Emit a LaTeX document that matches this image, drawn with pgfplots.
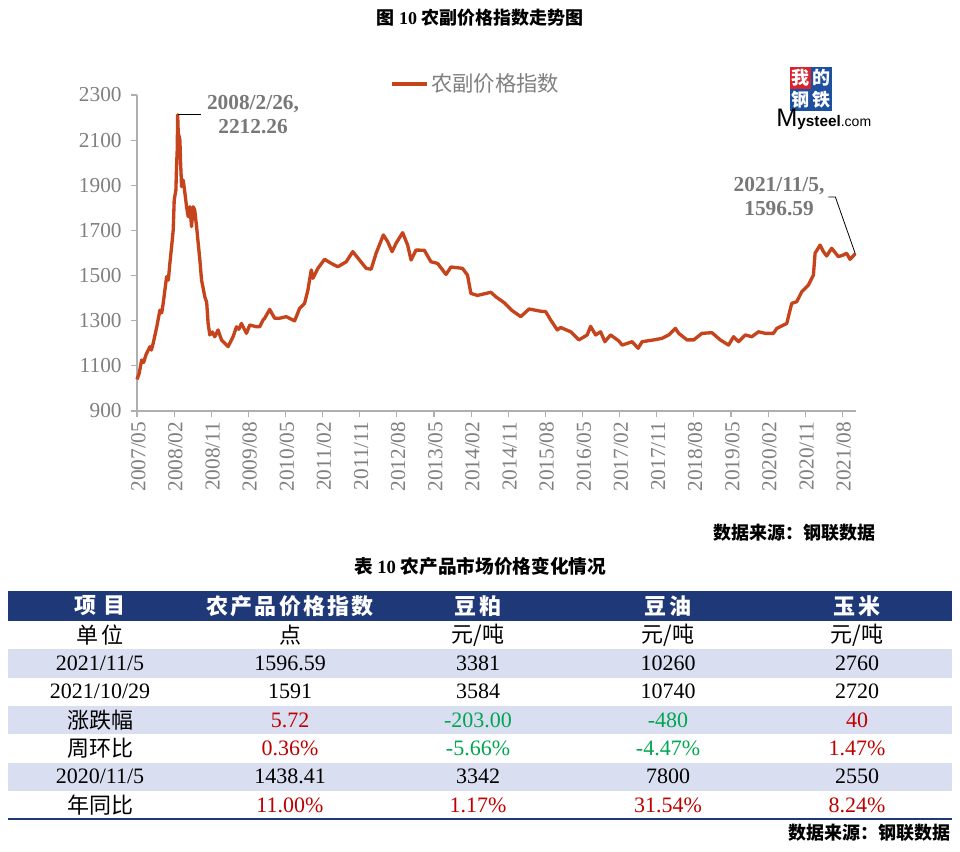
\documentclass[border=0pt]{standalone}
\usepackage{pgfplots}
\pgfplotsset{compat=1.18}
\usepackage{fontspec}
\setmainfont{Liberation Serif}
\setsansfont{Liberation Sans}
\newfontfamily\cjk{Noto Sans CJK SC}
\definecolor{lineC}{RGB}{197,68,28}
\definecolor{axgray}{RGB}{175,175,175}
\definecolor{txtgray}{RGB}{128,128,128}
\definecolor{annogray}{RGB}{120,120,120}
\definecolor{hdrblue}{RGB}{31,56,120}
\definecolor{rowshade}{RGB}{217,222,240}
\definecolor{tred}{RGB}{192,0,0}
\definecolor{tgreen}{RGB}{0,166,80}
\definecolor{logored}{RGB}{215,35,45}
\definecolor{logoblue}{RGB}{30,80,160}
\newcommand\tf{\fontsize{16.5}{18}\selectfont}
\newcommand\tcj{\cjk\fontsize{16.5}{18}\selectfont}
\begin{document}
\begin{tikzpicture}[x=0.75pt,y=0.75pt]
\path[use as bounding box, fill=white] (0,0) rectangle (960,851);
\begin{axis}[
  at={(102.75pt,330pt)}, anchor=south west,
  scale only axis, width=539.25pt, height=237pt,
  xmin=0, xmax=174.3, ymin=900, ymax=2300,
  ytick={900,1100,...,2300},
  xtick={0,9,...,171},
  xticklabels={2007/05,2008/02,2008/11,2009/08,2010/05,2011/02,2011/11,2012/08,2013/05,2014/02,2014/11,2015/08,2016/05,2017/02,2017/11,2018/08,2019/05,2020/02,2020/11,2021/08},
  /pgf/number format/assume math mode=true,
  /pgf/number format/1000 sep={},
  axis x line*=bottom, axis y line*=left,
  axis line style={axgray, line width=0.9pt},
  tick style={axgray, line width=0.9pt},
  tick align=outside, major tick length=4.5pt,
  tick label style={font=\fontsize{16}{16}\selectfont, text=txtgray},
  y tick label style={xshift=-3.5pt},
  x tick label style={rotate=90, anchor=east, yshift=-1pt},
  clip=false,
  legend style={at={(0.352,1.035)}, anchor=west, draw=none, fill=none,
    font=\cjk\fontsize{16}{16}\selectfont, text=txtgray, inner sep=0pt},
  legend image code/.code={\draw[lineC, line width=2.6pt] (0pt,0pt) -- (26pt,0pt);},
]
\addplot[lineC, line width=2.5pt, line join=round] coordinates {
(0,1040) (0.5,1065) (1.14,1126) (1.6,1115) (2.2,1150) (3.14,1185) (3.5,1170) (3.94,1201) (4.76,1270) (5.56,1347) (6.0,1335) (6.36,1378) (7.18,1495) (7.6,1480) (7.98,1556) (8.39,1628) (8.78,1702) (9.02,1835) (9.43,1879) (9.6,1990) (9.75,2056) (9.86,2212.26) (10.0,2130) (10.16,2120) (10.4,2100) (10.57,1999) (10.81,1894) (11.2,1923) (11.61,1866) (12.02,1805) (12.41,1761) (12.82,1805) (13.23,1717) (13.62,1805) (14.0,1790) (14.44,1717) (15.24,1569) (15.65,1480) (16.44,1406) (16.9,1380) (17.24,1288) (17.65,1237) (18.3,1250) (18.86,1229) (19.66,1259) (20.48,1215) (21.28,1200) (22.08,1185) (23.29,1229) (24.11,1273) (24.7,1262) (25.32,1288) (26.53,1244) (27.33,1281) (28.95,1273) (29.75,1273) (30.54,1303) (30.96,1311) (32.16,1350) (33.37,1311) (34.58,1311) (36.2,1318) (38.21,1299) (39.42,1355) (40.63,1377) (41.43,1436) (42.25,1525) (42.64,1488) (43.85,1532) (45.47,1572) (47.09,1554) (48.68,1539) (50.71,1561) (52.31,1606) (53.93,1569) (55.55,1532) (56.76,1528) (57.97,1599) (59.73,1680) (60.77,1650) (61.84,1606) (62.8,1643) (64.4,1690) (65.61,1635) (66.43,1569) (67.64,1613) (69.65,1612) (71.27,1561) (72.87,1554) (74.9,1505) (76.1,1538) (78.91,1532) (80.12,1502) (80.94,1421) (82.54,1412) (85.78,1426) (86.99,1406) (89,1380) (91,1344) (93.04,1318) (95.04,1352) (97.87,1342) (99.08,1340) (100.29,1303) (101.89,1259) (102.71,1270) (105.13,1251) (107.13,1215) (109.14,1237) (109.96,1275) (111.17,1237) (112.38,1251) (113.42,1207) (114.8,1237) (116.81,1210) (117.61,1192) (120.03,1207) (121.48,1178) (122.45,1207) (125.27,1215) (127.28,1222) (128.9,1237) (130.52,1266) (131.32,1244) (133.33,1215) (134.95,1215) (136.95,1244) (139.37,1247) (141.4,1215) (143.41,1192) (144.62,1229) (145.83,1207) (147.45,1237) (149.04,1229) (150.66,1251) (152.29,1244) (154.29,1244) (155.09,1266) (157.51,1288) (158.72,1377) (159.93,1384) (161.14,1428) (162.76,1458) (163.97,1502) (164.38,1599) (165.59,1635) (166.39,1606) (167.19,1587) (168.4,1621) (170.02,1584) (171.23,1591) (172.02,1599) (172.84,1572) (174.13,1596.59)
};
\addlegendentry{农副价格指数}
\draw[black, line width=0.6pt] (axis cs:9.86,2212.26) -- (axis cs:15.6,2212.26);
\draw[black, line width=0.6pt] (axis cs:167.6,1848) -- (axis cs:169.3,1848) -- (axis cs:174.13,1596.59);
\end{axis}
% annotations
\node[align=center, text=annogray, font=\bfseries\fontsize{16}{18}\selectfont] at (253,736) {2008/2/26,\\2212.26};
\node[align=center, text=annogray, font=\bfseries\fontsize{16}{18}\selectfont] at (779,654) {2021/11/5,\\1596.59};
% title
\node[font=\bfseries\fontsize{13.5}{14}\selectfont] at (480,833) {{\cjk 图} 10 {\cjk 农副价格指数走势图}};
% logo
\fill[logored] (790,762) rectangle (811,784);
\fill[logoblue] (811,762) rectangle (832,784);
\fill[logoblue] (790,740) rectangle (811,762);
\fill[logoblue] (811,740) rectangle (832,762);
\node[text=white, font=\cjk\bfseries\fontsize{13.5}{14}\selectfont] at (800.5,773) {我};
\node[text=white, font=\cjk\bfseries\fontsize{13.5}{14}\selectfont] at (821.5,773) {的};
\node[text=white, font=\cjk\bfseries\fontsize{13.5}{14}\selectfont] at (800.5,751) {钢};
\node[text=white, font=\cjk\bfseries\fontsize{13.5}{14}\selectfont] at (821.5,751) {铁};
\node[anchor=base west, inner sep=0pt, font=\sffamily] at (776,724) {{\fontsize{19}{19}\selectfont M}{\bfseries\fontsize{11.5}{12}\selectfont ysteel}{\fontsize{10.5}{11}\selectfont .com}};
% source 1
\node[anchor=east, inner sep=0pt, font=\cjk\bfseries\fontsize{13.5}{14}\selectfont] at (876,318) {数据来源：钢联数据};
% table title
\node[font=\bfseries\fontsize{14}{15}\selectfont] at (480,285) {{\cjk 表} 10 {\cjk 农产品市场价格变化情况}};
% table
\fill[hdrblue] (8,230) rectangle (952,260);
\fill[rowshade] (8,173.4) rectangle (952,201.7);
\fill[rowshade] (8,116.8) rectangle (952,145.1);
\fill[rowshade] (8,60.2) rectangle (952,88.5);
\draw[hdrblue, line width=1.6pt] (8,31.9) -- (952,31.9);
\begin{scope}[every node/.style={text=white, font=\cjk\bfseries\fontsize{16.5}{18}\selectfont}]
\node at (100,245) {项\hspace{0.3em}目};
\node at (290,245) {农\hspace{0.1em}产\hspace{0.1em}品\hspace{0.1em}价\hspace{0.1em}格\hspace{0.1em}指\hspace{0.1em}数};
\node at (478,245) {豆\hspace{0.1em}粕};
\node at (668,245) {豆\hspace{0.1em}油};
\node at (857,245) {玉\hspace{0.1em}米};
\end{scope}
% row 1
\node[font=\tcj] at (100,215.9) {单\hspace{0.15em}位};
\node[font=\tcj] at (290,215.9) {点};
\node[font=\tcj] at (478,215.9) {元/吨};
\node[font=\tcj] at (668,215.9) {元/吨};
\node[font=\tcj] at (857,215.9) {元/吨};
% row 2
\node[font=\tf] at (100,187.6) {2021/11/5};
\node[font=\tf] at (290,187.6) {1596.59};
\node[font=\tf] at (478,187.6) {3381};
\node[font=\tf] at (668,187.6) {10260};
\node[font=\tf] at (857,187.6) {2760};
% row 3
\node[font=\tf] at (100,159.3) {2021/10/29};
\node[font=\tf] at (290,159.3) {1591};
\node[font=\tf] at (478,159.3) {3584};
\node[font=\tf] at (668,159.3) {10740};
\node[font=\tf] at (857,159.3) {2720};
% row 4
\node[font=\tcj] at (100,131) {涨跌幅};
\node[font=\tf, text=tred] at (290,131) {5.72};
\node[font=\tf, text=tgreen] at (478,131) {-203.00};
\node[font=\tf, text=tgreen] at (668,131) {-480};
\node[font=\tf, text=tred] at (857,131) {40};
% row 5
\node[font=\tcj] at (100,102.7) {周环比};
\node[font=\tf, text=tred] at (290,102.7) {0.36\%};
\node[font=\tf, text=tgreen] at (478,102.7) {-5.66\%};
\node[font=\tf, text=tgreen] at (668,102.7) {-4.47\%};
\node[font=\tf, text=tred] at (857,102.7) {1.47\%};
% row 6
\node[font=\tf] at (100,74.4) {2020/11/5};
\node[font=\tf] at (290,74.4) {1438.41};
\node[font=\tf] at (478,74.4) {3342};
\node[font=\tf] at (668,74.4) {7800};
\node[font=\tf] at (857,74.4) {2550};
% row 7
\node[font=\tcj] at (100,46) {年同比};
\node[font=\tf, text=tred] at (290,46) {11.00\%};
\node[font=\tf, text=tred] at (478,46) {1.17\%};
\node[font=\tf, text=tred] at (668,46) {31.54\%};
\node[font=\tf, text=tred] at (857,46) {8.24\%};
% source 2
\node[anchor=east, inner sep=0pt, font=\cjk\bfseries\fontsize{13.5}{14}\selectfont] at (951,18) {数据来源：钢联数据};
\end{tikzpicture}
\end{document}
